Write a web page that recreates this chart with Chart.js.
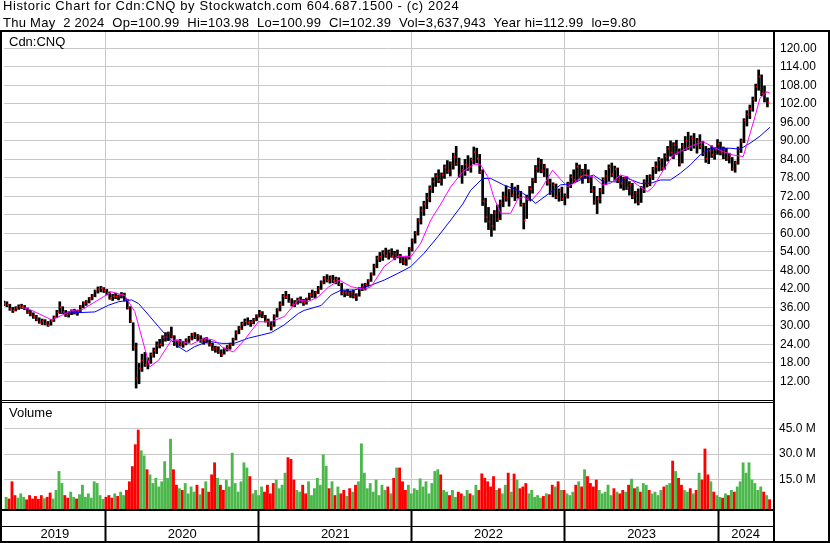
<!DOCTYPE html>
<html>
<head>
<meta charset="utf-8">
<script src="https://cdn.jsdelivr.net/npm/chart.js@4/dist/chart.umd.min.js"></script>
<style>
  html, body { margin: 0; padding: 0; background: #fff; }
  #wrap { position: relative; width: 830px; height: 543px; overflow: hidden;
          font-family: Arial, "Liberation Sans", sans-serif; color: #000; }
  #wrap canvas { position: absolute; left: 0; top: 0; }
  .txt { position: absolute; white-space: pre; font-size: 13px; line-height: 13px; }
</style>
</head>
<body>
<div id="wrap">
  <canvas id="chart" width="830" height="543"></canvas>
  <div class="txt" style="left:3px;top:-1px;letter-spacing:0.6px">Historic Chart for Cdn:CNQ by Stockwatch.com 604.687.1500 - (c) 2024</div>
  <div class="txt" style="left:3px;top:16px;letter-spacing:0.27px">Thu May  2 2024  Op=100.99  Hi=103.98  Lo=100.99  Cl=102.39  Vol=3,637,943  Year hi=112.99  lo=9.80</div>
  <div class="txt" style="left:9px;top:35px">Cdn:CNQ</div>
  <div class="txt" style="left:9px;top:406px">Volume</div>
</div>
<script>
// weekly bars, week 0 = first week of May 2019
const weekHigh = [
  38.0,37.8,37.0,36.0,36.2,36.8,37.0,36.6,35.8,35.0,
  34.2,33.4,32.6,32.2,32.0,31.4,32.0,33.2,35.0,37.8,
  36.2,35.0,34.6,35.2,35.4,35.0,36.6,37.8,38.2,39.2,
  40.2,41.6,42.6,42.8,42.4,41.8,41.0,40.2,40.6,40.0,
  40.8,40.6,38.6,36.2,31.0,24.4,17.8,20.8,21.4,19.6,
  21.2,22.8,24.8,25.6,26.8,27.8,28.0,29.6,26.8,25.4,
  25.6,25.0,25.8,26.6,27.6,27.8,27.2,26.8,26.0,26.2,
  25.4,24.4,23.4,23.2,22.2,22.8,23.6,24.4,26.0,28.4,
  29.8,31.2,32.2,32.6,31.8,32.4,33.6,35.0,34.6,33.4,
  32.2,31.4,33.6,35.6,37.8,40.2,41.2,40.2,38.8,38.2,
  39.0,39.4,38.6,39.0,40.6,41.6,41.2,42.8,44.6,46.0,
  46.6,46.2,46.4,45.8,45.6,43.8,41.4,41.8,41.2,41.6,
  40.4,42.4,43.6,43.8,45.0,47.2,50.0,52.6,53.8,54.4,
  55.2,54.6,55.0,54.2,54.6,53.2,52.2,52.6,55.4,58.2,
  60.6,64.8,68.6,70.4,73.0,75.4,78.0,79.4,80.6,79.6,
  82.2,83.6,83.2,86.0,88.2,84.4,82.0,84.0,85.2,84.4,
  88.0,87.6,85.6,80.6,71.4,68.4,66.2,67.4,69.2,70.8,
  73.4,75.4,74.2,76.2,75.0,75.6,73.6,69.8,72.4,75.2,
  77.8,82.0,84.4,84.0,82.4,81.0,77.6,76.4,76.0,74.4,
  75.0,72.8,76.6,79.0,80.6,82.8,82.2,80.8,82.4,80.6,
  78.4,75.2,72.0,74.6,78.0,80.4,82.2,82.8,81.8,81.2,
  78.6,78.2,78.4,76.8,76.2,73.6,74.4,75.2,77.4,78.8,
  79.0,81.4,83.2,84.6,84.2,85.8,88.2,90.0,89.4,90.2,
  87.4,89.2,91.4,92.8,91.6,92.4,90.8,92.0,89.8,88.2,
  87.6,88.4,87.8,90.4,89.6,88.0,87.6,86.0,84.6,83.4,
  88.0,90.6,97.2,99.8,101.6,104.2,108.4,112.99,111.4,107.8,103.98
];
const weekLow = [
  36.5,36.2,35.0,34.3,34.8,35.3,35.6,35.2,34.0,33.2,
  32.4,31.6,30.8,30.4,30.3,29.8,30.2,31.4,32.6,34.2,
  34.0,33.0,32.8,33.6,33.8,33.4,34.4,35.8,36.6,37.4,
  38.4,39.4,40.6,41.0,40.8,40.0,38.6,38.2,38.8,38.4,
  39.0,38.0,35.4,31.0,22.0,9.8,11.2,15.2,16.8,16.0,
  17.8,19.8,21.0,22.8,23.4,25.0,25.2,26.0,23.6,23.0,
  23.4,23.0,23.8,24.6,25.4,25.8,25.2,24.6,24.0,24.4,
  23.4,22.0,21.4,21.0,20.0,20.8,21.8,22.4,23.6,25.4,
  27.4,28.8,30.0,30.4,29.8,30.6,31.6,32.8,32.6,31.2,
  29.8,28.6,29.8,32.8,34.8,36.6,38.8,37.6,36.4,36.2,
  37.0,37.4,36.6,37.0,38.4,39.2,39.0,40.4,41.8,43.6,
  44.2,43.8,44.0,43.6,43.0,40.0,39.4,39.8,39.2,39.0,
  38.2,39.6,41.4,41.6,42.8,44.4,46.4,48.8,50.8,51.2,
  52.2,51.6,52.2,51.4,52.0,50.4,49.8,49.6,51.6,54.2,
  56.8,59.4,63.0,65.8,68.0,70.2,73.2,75.2,76.4,75.6,
  77.8,79.4,78.6,80.8,82.0,78.2,76.2,78.8,80.4,79.8,
  82.6,82.8,79.4,69.0,63.6,61.2,59.0,61.0,63.8,64.4,
  68.6,70.4,68.8,71.8,70.6,71.4,68.8,61.4,64.8,70.6,
  73.0,76.4,79.8,79.6,78.4,75.6,72.6,71.8,71.2,70.4,
  70.6,69.2,71.4,74.8,76.4,76.8,77.6,76.2,77.8,76.4,
  73.2,69.4,66.4,69.8,72.8,75.8,77.0,78.4,77.2,76.4,
  74.6,74.0,74.2,72.4,71.2,69.8,69.2,70.0,73.2,75.0,
  75.4,77.4,79.4,80.2,80.4,80.8,83.4,85.0,84.2,85.6,
  81.8,82.8,86.8,87.2,86.8,87.6,86.0,87.4,85.2,83.0,
  82.6,84.6,84.0,85.6,85.4,84.2,83.6,82.8,80.4,79.8,
  82.4,86.2,89.4,94.8,97.2,99.6,102.8,106.4,104.6,102.6,100.99
];
const weekClose = [
  37.2,36.8,35.4,35.0,35.8,36.2,36.4,35.5,34.4,33.6,
  33.0,32.0,31.2,31.6,30.8,30.2,31.6,32.8,34.4,36.0,
  34.4,33.4,34.0,34.6,34.2,34.8,36.2,37.4,37.8,38.8,
  39.8,41.2,41.8,42.2,41.4,40.6,39.0,39.6,39.4,39.8,
  40.2,38.4,35.8,31.6,23.0,13.0,16.2,18.8,17.4,18.6,
  20.6,22.0,23.6,24.0,26.2,26.4,27.6,26.6,24.2,24.6,
  23.8,24.2,25.4,26.0,27.2,26.2,26.8,25.0,25.4,24.8,
  23.8,22.6,22.8,21.6,20.6,22.4,23.0,24.0,25.6,27.8,
  29.2,30.6,31.4,31.0,31.2,32.0,33.2,34.2,33.0,31.6,
  30.4,30.0,33.0,35.2,37.0,39.6,39.4,38.0,37.0,37.6,
  38.6,37.8,37.4,38.8,40.2,40.4,40.8,42.2,44.2,45.4,
  44.8,45.6,44.6,45.0,43.6,40.6,40.8,40.4,40.8,39.6,
  39.8,42.0,42.6,43.4,44.6,46.8,49.4,51.8,52.4,53.6,
  52.8,54.0,52.6,53.4,52.4,51.0,50.6,52.0,54.8,57.6,
  60.0,64.2,67.4,69.6,71.4,74.6,76.8,78.6,77.2,79.0,
  81.4,80.2,82.6,84.8,82.8,79.2,80.6,82.4,81.4,83.8,
  86.4,84.2,80.0,70.4,65.2,63.8,62.4,66.6,64.6,69.8,
  72.0,71.2,73.6,72.4,74.2,72.2,69.4,64.2,71.6,74.4,
  77.2,81.2,83.0,80.4,81.6,76.4,73.4,75.6,72.0,73.6,
  71.2,72.2,76.0,78.2,77.4,81.6,78.4,80.2,79.0,77.2,
  74.0,70.2,71.2,73.8,77.4,78.6,81.4,79.2,80.8,77.0,
  76.2,77.6,74.8,75.8,72.0,73.0,70.2,74.6,76.8,76.2,
  78.4,80.8,81.6,83.8,81.2,85.0,87.4,86.2,88.6,86.4,
  82.6,88.4,90.0,88.4,90.8,88.6,89.8,88.2,86.0,84.2,
  86.8,85.4,87.2,89.0,86.2,87.2,84.4,85.2,81.0,82.8,
  87.4,89.8,96.6,98.6,100.4,103.4,107.6,110.8,105.4,105.8,102.39
];
// volume in millions of shares
const weekVolume = [
  5,4,14,6,4.5,7,5,3.5,6,4,
  5.5,3.8,6,4.2,5,7.5,4,9,20,13,
  6,4.5,8,5,4,6.5,12,5,7,4.5,
  14,13,6,3.8,5,6,4.5,7,5.5,8,
  6,9,14,22.8,35.5,44,32,29,21,18,
  13,16,11,14,25.7,16,38.7,21,12,10,
  9,13,7,11,8,12,6.5,10,14,8,
  18,25,16,12,9,15,11,30.6,13,8,
  14,25,22,17,7,9,6,11,8,12,
  7,13,15,10,12,19,28,27,15,9,
  8,12,7,14,6,10,16,12,29.6,23,
  10,14,6,11,7,9,5.5,10,8,12,
  14,36,19,10,13,8,15,6,12,9,
  11,7,16,22,22,14,9,12,7,10,
  9,15.7,11,14,7,13,20,21,18,9,
  8,6,9,5,8,7,5.5,9,7,6,
  12,9,18.6,16,14,11,17,9,10,7,
  12,19,8,18.5,15,10,11,13,7,9,
  5,6,4.5,5.5,7,6.5,12,11,14,9,
  9,7,6,8,12,14,11,21,17,13,
  11,15,9,7,8,12,6,10,8,7,
  9,8,12,15.5,10,11,8,13,12,9,
  7,8,6,9,11,12,13,26,20,16,
  12,9,8,10,7,9,19,15,33,18,
  14,8,6,5,4.5,7,6,9,8,11,
  14,25,19,25,15,13,9,11,8,6,3.6
];

const fastMaWeek = [5.8,8.2,16,22.8,26.2,36.3,40.8,44.2,49.3,52.3,56.7,59.1,63.5,67.9,71.3,74.4,77.8,81.5,86.3,90.7,
  95.1,99.9,103.3,106.7,110.1,113.8,117.9,122.3,124.7,129.1,133.8,138.2,141.6,145,148.4,151.8,155.9,159.6,162,164.4,
  166.4,168.8,172.2,174.6,176.6,179,182.4,186.5,189.2,191.6,193.6,197,200.4,203.5,206.2,209.6,212,215.4,218.8,220.8,
  224.2,227.6,231,234.4,237.8,241.2,244.6,248,251.4,253.1,255.4,257.1,259.5,260.5];
const fastMaValue = [36.0,35.4,31.9,35.0,35.2,41.0,39.8,34.6,16.7,18.8,25.4,25.2,24.0,26.0,25.3,22.8,21.5,25.4,31.3,31.3,
  33.0,38.4,37.9,39.4,42.5,44.8,42.7,41.8,42.7,49.2,52.6,52.4,56.8,64.3,69.5,75.1,80.0,82.3,82.2,78.4,
  71.9,66.5,66.5,71.0,71.9,70.3,74.0,80.5,77.5,75.1,76.2,78.9,78.3,75.7,76.2,78.9,78.3,75.7,73.5,75.1,
  80.5,85.4,87.0,88.6,89.7,88.0,86.5,85.4,84.9,90.3,97.8,103.8,105.9,105.4];

const slowMaWeek = [18.3,30.6,35.3,38.7,43.1,45.5,48.9,52.3,55.7,59.1,61.8,64.5,69.3,73.7,78.1,82.9,87.3,90.7,95.1,99.9,
  101.9,107.7,111.1,114.5,118.9,124.7,129.1,133.8,138.2,142.7,147.4,151.8,155.9,158.6,162.7,165.4,169.8,174.6,178,180.7,
  185.8,189.2,193.6,197,200.4,203.8,208.6,212,216.4,219.8,223.2,226.6,230,233.4,236.7,240.1,243.5,246.9,250.3,253.7,
  257.1,260.5];
const slowMaValue = [34.0,34.5,36.7,37.8,38.4,37.2,33.5,29.7,26.0,23.2,21.6,23.2,25.0,24.3,24.3,26.0,27.0,27.8,30.3,34.0,
  35.0,36.6,40.0,41.6,41.6,43.2,44.8,47.0,49.2,53.5,58.9,64.3,69.5,74.0,77.8,77.8,75.7,74.0,72.0,69.7,
  73.3,75.7,76.2,77.8,78.9,76.7,76.7,77.8,76.2,76.2,77.3,77.3,79.5,82.2,85.4,87.6,87.6,87.6,87.3,89.2,
  91.5,94.4];

// axis tick labels and calendar breaks (week index where each year starts)
const yearNames = ["2019", "2020", "2021", "2022", "2023", "2024"];
const yearStartWeek = [34.3, 86.4, 138.6, 190.7, 242.9];
const priceTicks = [12, 18, 24, 30, 36, 42, 48, 54, 60, 66, 72, 78, 84, 90, 96, 102, 108, 114, 120];
const volumeTicks = [15, 30, 45];

const X_MIN = -0.34, X_MAX = 261.55;
const PRICE_MIN = 5.93, PRICE_MAX = 125.3;
const VOL_MIN = -1.83, VOL_MAX = 61.4;

const GRID = "#c8c8c8";
const UP = "#4cb84c", DOWN = "#ff0000", FLAT = "#a8a8a8";

const rangeData = weekHigh.map((h, i) => ({ x: i, y: [weekLow[i], h] }));
const closeData = weekClose.map((c, i) => ({ x: i, y: c }));
const volData = weekVolume.map((v, i) => ({ x: i, y: v }));
const volColors = weekClose.map((c, i) => {
  if (i === 0) return UP;
  if (c > weekClose[i - 1]) return UP;
  if (c < weekClose[i - 1]) return DOWN;
  return FLAT;
});
const fastMa = fastMaWeek.map((w, i) => ({ x: w, y: fastMaValue[i] }));
const slowMa = slowMaWeek.map((w, i) => ({ x: w, y: slowMaValue[i] }));

// year label sits in the middle of its span
const yearEdges = [X_MIN].concat(yearStartWeek, [X_MAX]);
const yearMid = yearNames.map((n, i) => (yearEdges[i] + yearEdges[i + 1]) / 2);
const xTicks = yearStartWeek.concat(yearMid).sort((a, b) => a - b);
const isBreak = (v) => yearStartWeek.indexOf(v) !== -1;

const FONT = { family: "Arial, 'Liberation Sans', sans-serif", size: 12 };

const framePlugin = {
  id: "frame",
  afterDraw(chart) {
    const ctx = chart.ctx;
    const a = chart.chartArea;
    const yP = chart.scales.yPrice;
    const W = chart.width, H = chart.height;
    ctx.save();
    ctx.fillStyle = "#000";
    ctx.fillRect(0, 30, W, 2);
    ctx.fillRect(0, 30, 2, H - 30);
    ctx.fillRect(W - 2, 30, 2, H - 30);
    ctx.fillRect(a.right, 30, 2, H - 30);
    ctx.fillRect(0, Math.round(yP.bottom), a.right, 1);
    ctx.fillRect(0, Math.round(yP.bottom) + 2, a.right, 1);
    ctx.fillRect(0, a.bottom, a.right, 2);
    ctx.fillRect(0, a.bottom + 17, a.right, 1);
    ctx.fillRect(0, H - 2, W, 2);
    ctx.restore();
  },
};

new Chart(document.getElementById("chart"), {
  type: "bar",
  data: {
    datasets: [
      {
        type: "line",
        data: fastMa,
        borderColor: "#ff00ff",
        borderWidth: 1,
        pointRadius: 0,
        tension: 0,
        yAxisID: "yPrice",
        order: 0,
      },
      {
        type: "line",
        data: slowMa,
        borderColor: "#0000ff",
        borderWidth: 1,
        pointRadius: 0,
        tension: 0,
        yAxisID: "yPrice",
        order: 0,
      },
      {
        type: "line",
        data: closeData,
        showLine: false,
        pointStyle: "rect",
        pointRadius: 1.2,
        pointBorderWidth: 0,
        pointBackgroundColor: "#ff0000",
        yAxisID: "yPrice",
        order: 1,
      },
      {
        type: "bar",
        data: rangeData,
        backgroundColor: "#000",
        borderWidth: 0,
        barThickness: 2,
        yAxisID: "yPrice",
        order: 2,
      },
      {
        type: "bar",
        data: volData,
        backgroundColor: volColors,
        borderWidth: 0,
        barThickness: 2.2,
        base: VOL_MIN,
        yAxisID: "yVol",
        order: 3,
      },
    ],
  },
  options: {
    responsive: false,
    animation: false,
    devicePixelRatio: 1,
    layout: { padding: { left: 2, right: 2, top: 32, bottom: 0 } },
    plugins: { legend: { display: false }, tooltip: { enabled: false } },
    scales: {
      yPrice: {
        type: "linear",
        position: "right",
        stack: "panels",
        stackWeight: 368,
        min: PRICE_MIN,
        max: PRICE_MAX,
        afterBuildTicks: (s) => { s.ticks = priceTicks.map((v) => ({ value: v })); },
        afterFit: (s) => { s.width = 55; },
        grid: { color: GRID, lineWidth: 1, drawTicks: false },
        border: { display: false },
        ticks: { autoSkip: false, color: "#000", font: FONT, padding: 7, callback: (v) => v.toFixed(2) },
      },
      yVol: {
        type: "linear",
        position: "right",
        stack: "panels",
        stackWeight: 109,
        min: VOL_MIN,
        max: VOL_MAX,
        afterBuildTicks: (s) => { s.ticks = volumeTicks.map((v) => ({ value: v })); },
        afterFit: (s) => { s.width = 55; },
        grid: { color: GRID, lineWidth: 1, drawTicks: false },
        border: { display: false },
        ticks: { autoSkip: false, color: "#000", font: FONT, padding: 6, callback: (v) => v.toFixed(1) + " M" },
      },
      x: {
        type: "linear",
        position: "bottom",
        min: X_MIN,
        max: X_MAX,
        offset: false,
        afterBuildTicks: (s) => { s.ticks = xTicks.map((v) => ({ value: v })); },
        afterFit: (s) => { s.height = 34; },
        grid: {
          offset: false,
          lineWidth: 1,
          color: (c) => (c.tick && isBreak(c.tick.value) ? GRID : "rgba(0,0,0,0)"),
          tickColor: (c) => (c.tick && isBreak(c.tick.value) ? "#000" : "rgba(0,0,0,0)"),
          tickLength: 33,
          tickWidth: 2,
        },
        border: { display: false },
        ticks: {
          autoSkip: false,
          maxRotation: 0,
          color: "#000",
          font: { family: FONT.family, size: 13 },
          padding: -15,
          callback: (v) => {
            const k = yearMid.indexOf(v);
            return k === -1 ? "" : yearNames[k];
          },
        },
      },
    },
  },
  plugins: [framePlugin],
});
</script>
</body>
</html>
